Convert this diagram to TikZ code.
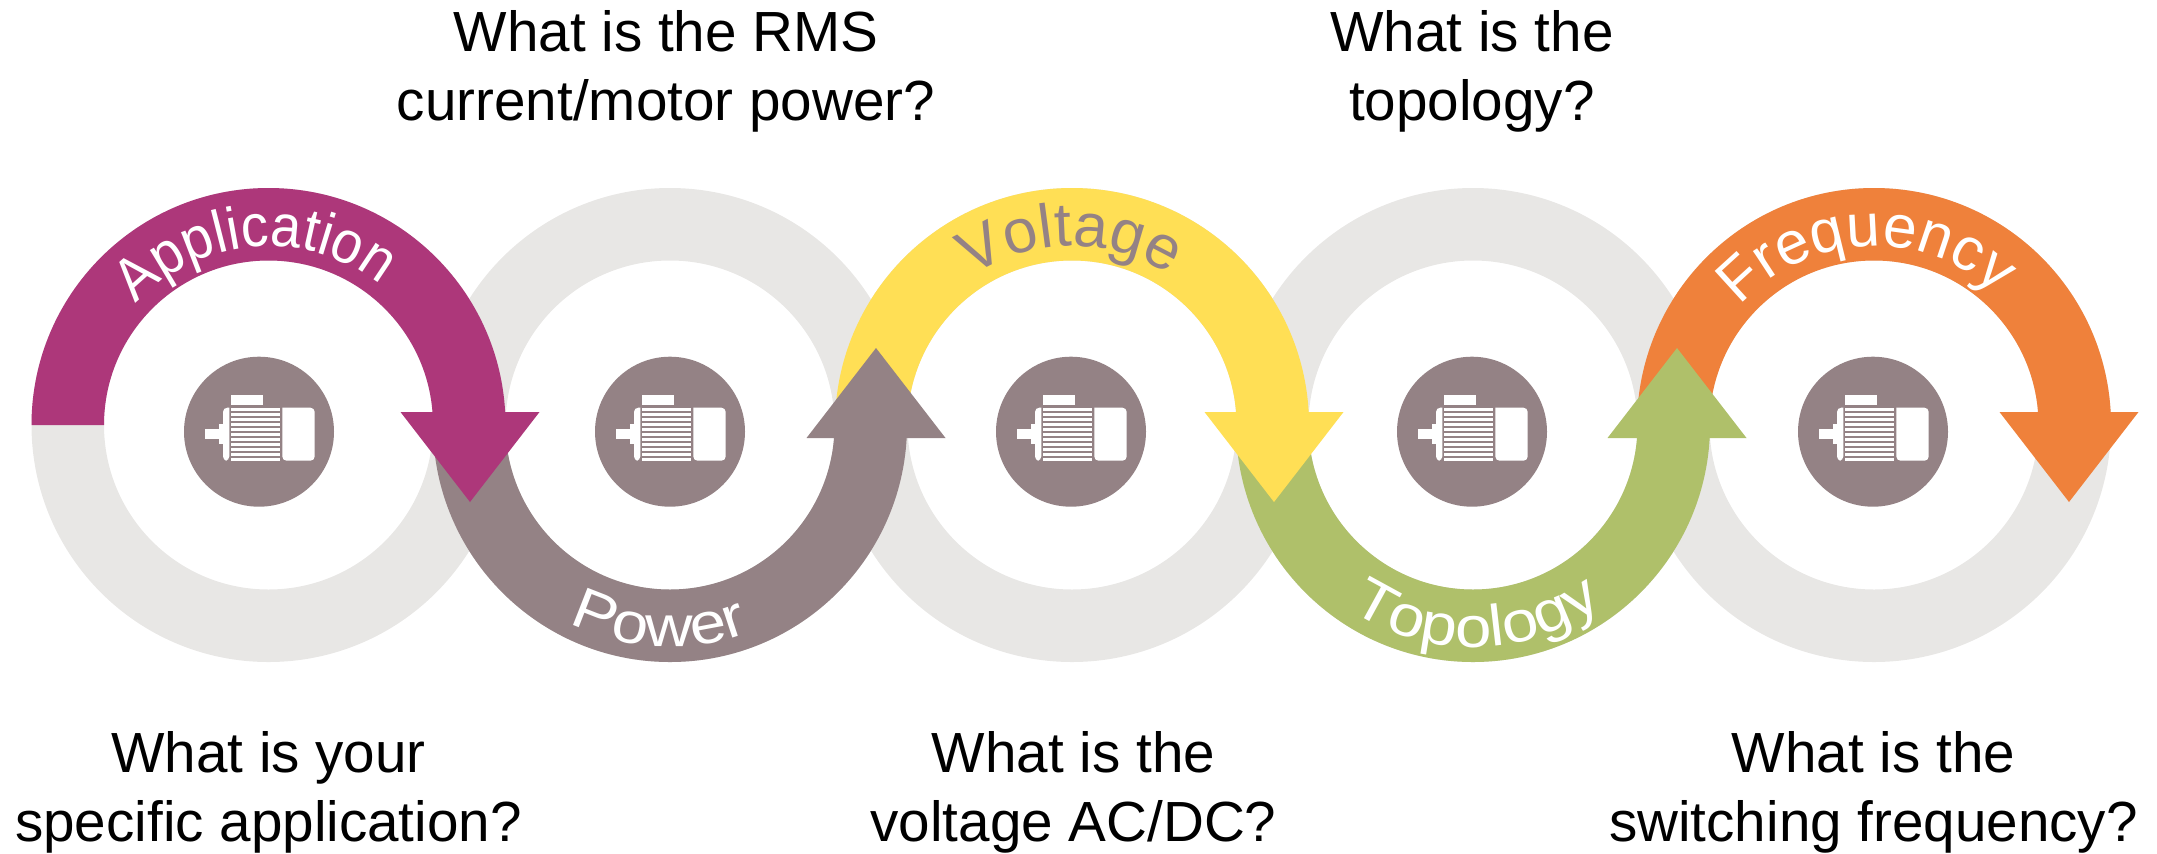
\documentclass[tikz,border=0pt]{standalone}
\usepackage{fontspec}
\setmainfont{Liberation Sans}
\newfontfamily\bandplain{Liberation Sans}
\newfontfamily\bandnarrow[FakeStretch=0.92]{Liberation Sans}
\newfontfamily\bandwide[FakeStretch=1.13]{Liberation Sans}
\usetikzlibrary{decorations.text}
\definecolor{ringgray}{HTML}{E8E7E5}
\definecolor{taupe}{HTML}{948285}
\definecolor{plum}{HTML}{AD377A}
\definecolor{sun}{HTML}{FFDF55}
\definecolor{moss}{HTML}{AFC06A}
\definecolor{tangerine}{HTML}{EF813B}
\tikzset{
	question/.style={align=center, font=\fontsize{16.1pt}{19.6pt}\selectfont, inner sep=0pt},
	motordisc/.style={circle, fill=taupe, minimum size=150*0.01cm, inner sep=0pt},
	motor/.pic={
		\fill[white] (-27.7,26.3) rectangle (4,36.7);
		\foreach \i in {0,...,10}
			\fill[white] (-27.7,24-5*\i) rectangle (20.7,21-5*\i);
		\fill[white, rounded corners=1.2pt] (23.3,24) -- (55.7,24) -- (55.7,-29) -- (23.3,-29) [sharp corners] -- cycle;
		\fill[white, rounded corners=1.2pt] (-29.7,24) -- (-36,24) -- (-36,-29) -- (-29.7,-29) [sharp corners] -- cycle;
		\fill[white] (-39.7,7.3) rectangle (-35.9,-12.7);
		\fill[white] (-54.3,2.3) rectangle (-39.6,-7.7);
	}
}
\begin{document}
\begin{tikzpicture}[x=0.01cm, y=0.01cm]
	\useasboundingbox (0,0) rectangle (2157,853);
	% grey rings
	\foreach \cx in {268.5,670,1072,1473,1874}
		\fill[ringgray, even odd rule] (\cx,428) circle[radius=237] (\cx,428) circle[radius=164.5];
	% coloured half rings, last one first so each arrow lies on the next band
	\foreach \cx/\ax/\s/\col/\txtcol/\ang/\rad/\ff/\fs/\word in {
		1874/2069/1/tangerine/white/92.5/179/plain/17.2/Frequency,
		1473/1677/-1/moss/white/271/222/wide/16.5/Topology,
		1072/1274/1/sun/taupe/90.5/179/plain/17.5/Voltage,
		670/876/-1/taupe/white/267/222/wide/16.5/Power,
		268.5/470/1/plum/white/94.5/179/narrow/17/Application}
	{
		\fill[\col] (\cx-237,428) arc[start angle=180, delta angle=-180*\s, radius=237]
			-- (\cx+164.5,428) arc[start angle=360-180*(1-\s), delta angle=180*\s, radius=164.5] -- cycle;
		\fill[\col] (\ax-69.5,428+13*\s) -- (\ax+69.5,428+13*\s) -- (\ax,428-77*\s) -- cycle;
		\path (\cx,428) ++(\ang+90*\s:\rad) coordinate (start\word);
		\path[decorate, decoration={text along path, text align=center,
			text/.expanded={|\expandafter\noexpand\csname band\ff\endcsname\noexpand\fontsize{\fs pt}{20pt}\noexpand\selectfont\noexpand\color{\txtcol}|\word}}]
			(start\word) arc[start angle=\ang+90*\s, delta angle=-180*\s, radius=\rad];
	}
	% motors
	\foreach \mx [count=\n] in {259,670,1071,1472,1873}
	{
		\node[motordisc] (disc\n) at (\mx,421.3) {};
		\pic at (disc\n.center) {motor};
	}
	% questions
	\node[question] (qrms) at (666,781.5) {What is the RMS\\current/motor power?};
	\node[question] (qtopology) at (1472,781.5) {What is the\\topology?};
	\node[question] (qapplication) at (268.5,60.5) {What is your\\specific application?};
	\node[question] (qvoltage) at (1073.5,60.5) {What is the\\voltage AC/DC?};
	\node[question] (qfrequency) at (1873.5,60.5) {What is the\\switching frequency?};
\end{tikzpicture}
\end{document}
